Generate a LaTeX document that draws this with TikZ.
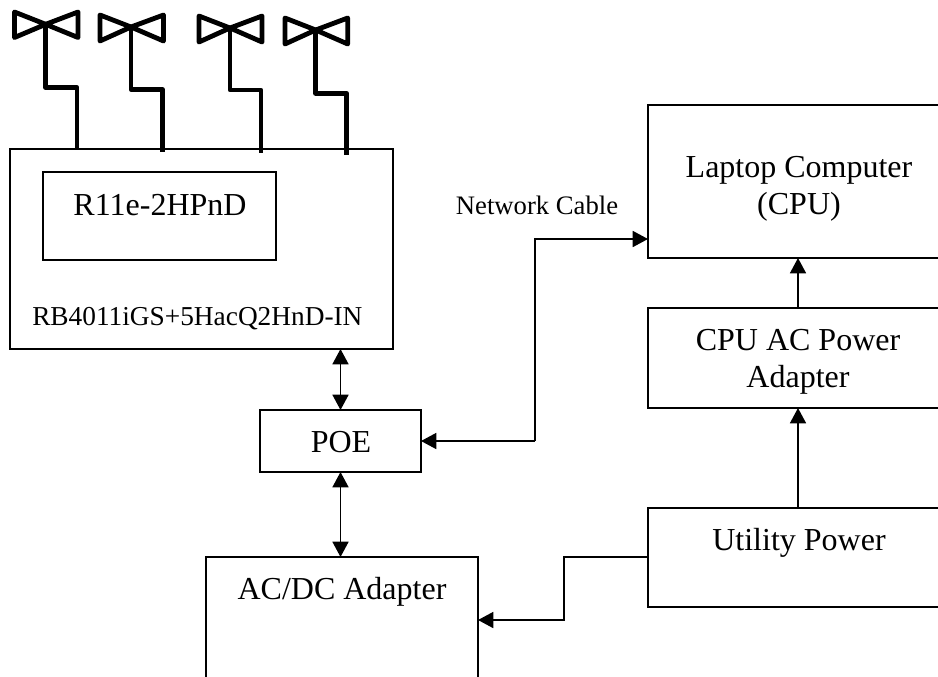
\documentclass[tikz,border=0pt]{standalone}
\usepackage{fontspec}
\setmainfont{Liberation Serif}
\usetikzlibrary{arrows.meta,calc}
\tikzset{
  boxnode/.style={draw=black,line width=1.2pt,rectangle,inner sep=0pt,outer sep=0pt},
  big/.style={font=\fontsize{24}{27.7}\selectfont,align=center,inner sep=0pt},
  small/.style={font=\fontsize{20}{24}\selectfont,inner sep=0pt},
  link/.style={line width=1.3pt},
  tip/.style={-{Triangle[length=11.5pt,width=12pt]}},
  duo/.style={{Triangle[length=11.5pt,width=12pt]}-{Triangle[length=11.5pt,width=12pt]}},
  aerial/.style={line width=3.6pt,line join=round}
}
\newcommand{\aerial}[9]{%
  % cx cy left top bottom right elbowY elbowX endY
  \draw[aerial] (#1,#2) -- (#3,#4) -- (#3,#5) -- cycle;
  \draw[aerial] (#1,#2) -- (#6,#4) -- (#6,#5) -- cycle;
  \draw[aerial] (#1,#2) -- (#1,#7) -- (#8,#7) -- (#8,#9);
}
\begin{document}
\begin{tikzpicture}[x=0.75pt,y=-0.75pt]
\useasboundingbox (0,0) rectangle (938,676);
\clip (0,0) rectangle (938,676);
\node[boxnode,minimum width=383*0.75pt,minimum height=200*0.75pt] (main) at (201.5,249) {};
\node[boxnode,minimum width=233*0.75pt,minimum height=88*0.75pt] (radio) at (159.5,216) {};
\node[boxnode,minimum width=161*0.75pt,minimum height=62*0.75pt] (poe) at (340.5,441) {};
\node[boxnode,minimum width=272*0.75pt,minimum height=160*0.75pt] (acdc) at (342,637) {};
\node[boxnode,minimum width=304*0.75pt,minimum height=153*0.75pt] (laptop) at (800,181.5) {};
\node[boxnode,minimum width=304*0.75pt,minimum height=100*0.75pt] (cpuac) at (800,358) {};
\node[boxnode,minimum width=304*0.75pt,minimum height=99*0.75pt] (utility) at (800,557.5) {};

\node[big] (tradio) at (160,205) {R11e-2HPnD};
\node[font=\fontsize{20.5}{24}\selectfont,inner sep=0pt,anchor=base west] (tmain) at (32,325) {RB4011iGS+5HacQ2HnD-IN};
\node[big] (tpoe) at (341,442) {POE};
\node[big] (tacdc) at (342,592) {AC/DC Adapter};
\node[big] (tlaptop) at (799,189) {Laptop Computer\\(CPU)};
\node[big] (tcpuac) at (798,362) {CPU AC Power\\Adapter};
\node[big] (tutility) at (799,543) {Utility Power};
\node[small,anchor=base] (tcable) at (537,214) {Network Cable};

\coordinate (netbend) at (535,441);
\coordinate (upsbend) at (564,557);
\draw[link,duo] (main.south -| poe.north) -- (poe.north);
\draw[link,duo] (poe.south) -- (poe.south |- acdc.north);
\draw[link,tip] (netbend) |- ($(laptop.west)+(0,57.5)$);
\draw[link,tip] (netbend) -- (poe.east);
\draw[link,tip] (upsbend -| utility.west) -- (upsbend) |- ($(acdc.east)+(0,-17)$);
\draw[link,tip] (cpuac.north -| 798,0) -- (798,0 |- laptop.south);
\draw[link,tip] (utility.north -| 798,0) -- (798,0 |- cpuac.south);

\aerial{45.7}{24.3}{14.5}{12}{37.5}{78}{87.5}{77}{149}
\aerial{131}{27}{100}{15}{41}{163.5}{89.5}{162.5}{152}
\aerial{230}{28}{199}{16}{42}{262}{90}{261}{153}
\aerial{315.7}{30}{285}{18}{44}{347.7}{93.3}{346.7}{155}
\end{tikzpicture}
\end{document}
